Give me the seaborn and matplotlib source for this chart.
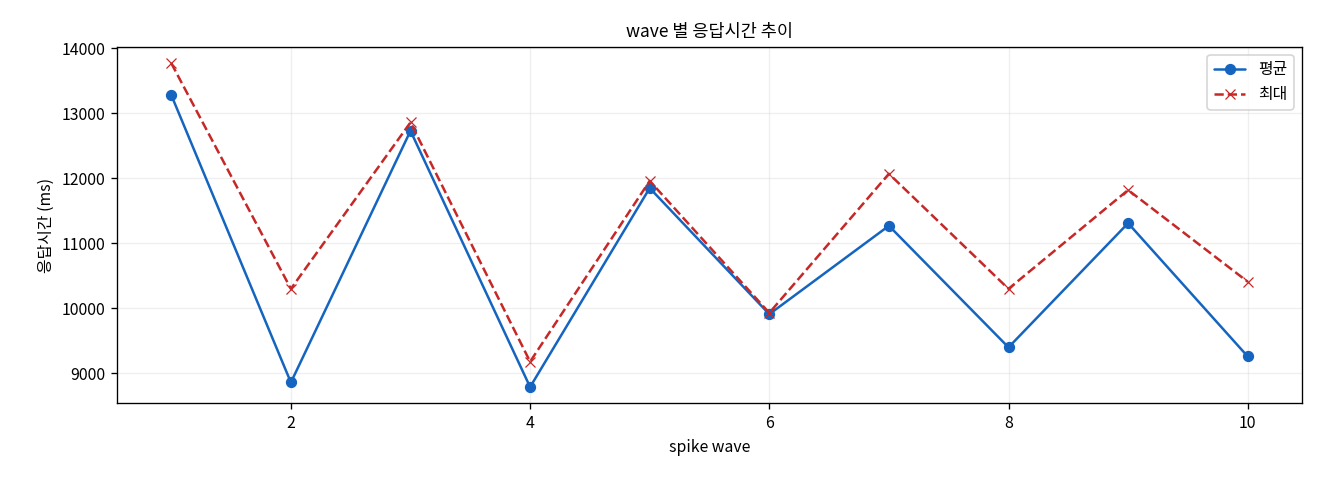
import pandas as pd
import seaborn as sns
import matplotlib.pyplot as plt

waves = [1, 2, 3, 4, 5, 6, 7, 8, 9, 10]
avg_ms = [13280, 8860, 12730, 8790, 11850, 9910, 11270, 9400, 11310, 9260]
max_ms = [13770, 10300, 12860, 9180, 11960, 9930, 12070, 10300, 11820, 10410]

df = pd.DataFrame({"wave": waves, "평균": avg_ms, "최대": max_ms})

sns.set_style("ticks")
plt.rcParams['font.family'] = ['Noto Sans CJK KR', 'DejaVu Sans']
plt.rcParams['axes.unicode_minus'] = False
for key in ['text.color', 'axes.labelcolor', 'xtick.color', 'ytick.color', 'axes.edgecolor']:
    plt.rcParams[key] = 'black'

fig, ax = plt.subplots(figsize=(11, 4), dpi=120)
sns.lineplot(data=df, x="wave", y="평균", ax=ax, color="#1565c0", marker="o",
             markersize=6, markeredgecolor="#1565c0", label="평균")
sns.lineplot(data=df, x="wave", y="최대", ax=ax, color="#c62828", marker="x",
             markersize=6, markeredgecolor="#c62828", linestyle="--", label="최대")

ax.set_title("wave 별 응답시간 추이", fontsize=10.5)
ax.set_xlabel("spike wave", fontsize=9.5)
ax.set_ylabel("응답시간 (ms)", fontsize=9.5)
ax.tick_params(labelsize=9.5)
ax.grid(True, alpha=0.3)
ax.legend(loc="upper right", fontsize=9.5)

fig.subplots_adjust(left=0.089, right=0.986, top=0.902, bottom=0.16)
plt.savefig("out.png")
